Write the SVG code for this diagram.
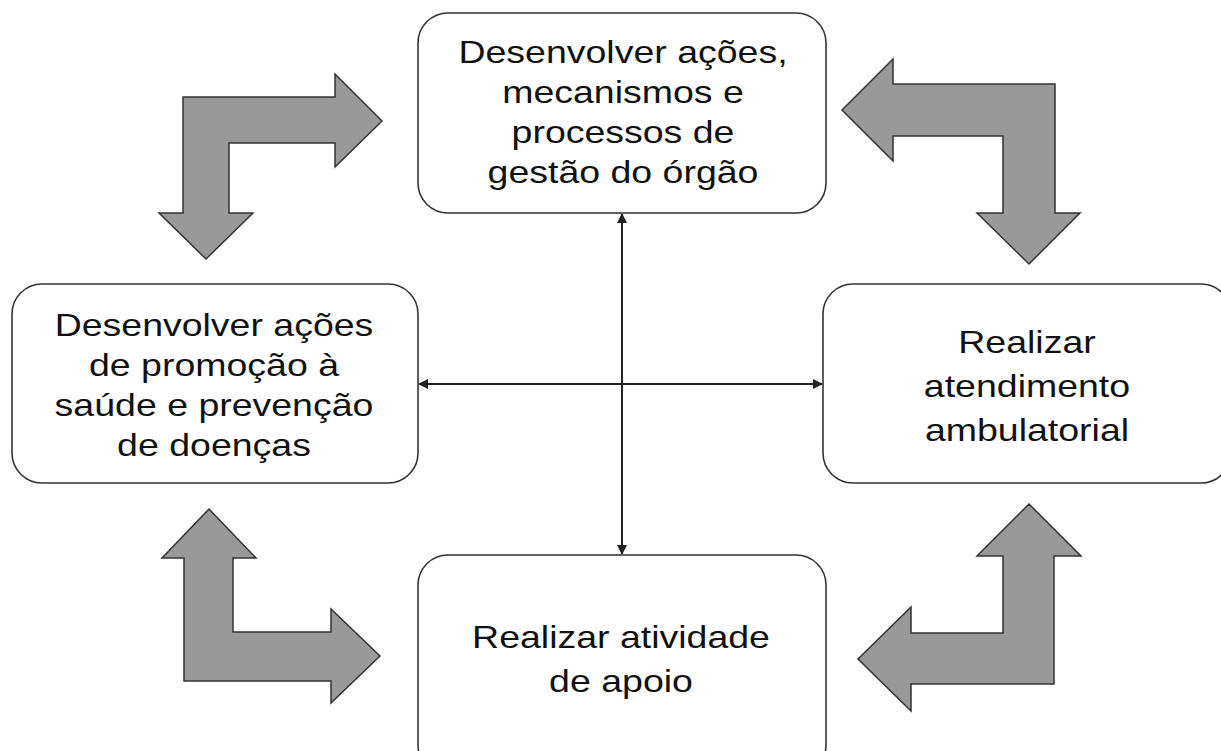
<svg xmlns="http://www.w3.org/2000/svg" width="1221" height="751" viewBox="0 0 1221 751">
<style>
.box{fill:#fff;stroke:#333;stroke-width:1.6}
.big{fill:#999;stroke:#333;stroke-width:1.5;stroke-linejoin:miter}
.lbl{font-family:"Liberation Sans",Arial,sans-serif;font-size:31.5px;fill:#111;text-anchor:middle}
.con{stroke:#222;stroke-width:2;fill:none;marker-start:url(#ah);marker-end:url(#ah)}
</style>
<defs>
<marker id="ah" viewBox="0 0 10 10" refX="9" refY="5" markerWidth="5" markerHeight="5" orient="auto-start-reverse" markerUnits="strokeWidth">
<path d="M0,0 L10,5 L0,10 Z" fill="#222"/>
</marker>
</defs>
<rect width="1221" height="751" fill="#fff"/>
<g id="connectors">
<line class="con" x1="622" y1="214" x2="622" y2="554"/>
<line class="con" x1="419" y1="384" x2="822" y2="384"/>
</g>
<g id="arrows">
<polygon id="arrow-tl" class="big" points="183,97 335,97 335,74 382,121 335,167 335,143 229,143 229,213 253,213 206,259 159,213 183,213"/>
<polygon id="arrow-tr" class="big" points="842,110 893,59 893,84 1055,84 1055,213 1080,213 1029,264 977,213 1003,213 1003,136 893,136 893,161"/>
<polygon id="arrow-bl" class="big" points="209,509 256,558 233,558 233,632 331,632 331,609 380,656 331,703 331,681 184,681 184,558 162,558"/>
<polygon id="arrow-br" class="big" points="1029,504 1081,556 1054,556 1054,684 911,684 911,711 858,659 911,607 911,633 1003,633 1003,556 977,556"/>
</g>
<g id="node-top">
<rect class="box" x="418" y="13" width="408" height="200" rx="30" ry="30"/>
<g transform="translate(623,0) scale(1.19,1)">
<text class="lbl" x="0" y="63">Desenvolver ações,</text>
<text class="lbl" x="0" y="103">mecanismos e</text>
<text class="lbl" x="0" y="143">processos de</text>
<text class="lbl" x="0" y="183">gestão do órgão</text>
</g>
</g>
<g id="node-left">
<rect class="box" x="12" y="284" width="406" height="199" rx="30" ry="30"/>
<g transform="translate(214,0) scale(1.19,1)">
<text class="lbl" x="0" y="336">Desenvolver ações</text>
<text class="lbl" x="0" y="376">de promoção à</text>
<text class="lbl" x="0" y="416">saúde e prevenção</text>
<text class="lbl" x="0" y="456">de doenças</text>
</g>
</g>
<g id="node-right">
<rect class="box" x="823" y="284" width="408" height="199" rx="30" ry="30"/>
<g transform="translate(1027,0) scale(1.19,1)">
<text class="lbl" x="0" y="353">Realizar</text>
<text class="lbl" x="0" y="397">atendimento</text>
<text class="lbl" x="0" y="441">ambulatorial</text>
</g>
</g>
<g id="node-bottom">
<rect class="box" x="418" y="555" width="408" height="220" rx="30" ry="30"/>
<g transform="translate(621,0) scale(1.19,1)">
<text class="lbl" x="0" y="648">Realizar atividade</text>
<text class="lbl" x="0" y="692">de apoio</text>
</g>
</g>
</svg>
